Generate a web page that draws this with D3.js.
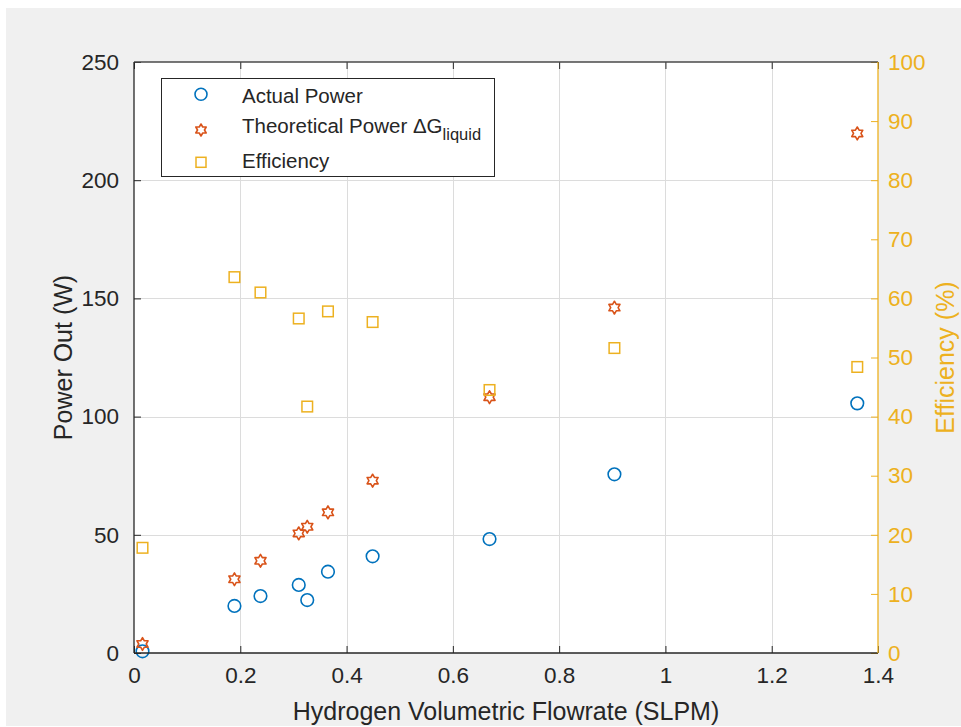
<!DOCTYPE html>
<html>
<head>
<meta charset="utf-8">
<script src="https://cdn.jsdelivr.net/npm/d3@7/dist/d3.min.js"></script>
<style>
  html, body { margin: 0; padding: 0; background: #ffffff; }
  svg { display: block; }
  text { font-family: "Liberation Sans", Arial, Helvetica, sans-serif; }
</style>
</head>
<body>
<svg id="chart" width="961" height="727"></svg>
<script>
// Measurements: hydrogen flow vs. fuel-cell power output and efficiency
const flowrate         = [0.016, 0.189, 0.238, 0.310, 0.326, 0.365, 0.449, 0.669, 0.904, 1.361];
const actualPower      = [0.7, 19.9, 24.1, 28.8, 22.4, 34.4, 40.9, 48.2, 75.6, 105.6];
const theoreticalPower = [3.8, 31.2, 39.0, 50.6, 53.4, 59.5, 72.9, 108.2, 146.1, 219.8];
const efficiency       = [17.8, 63.6, 61.0, 56.6, 41.7, 57.8, 56.0, 44.5, 51.6, 48.4];

const xTicks      = [0, 0.2, 0.4, 0.6, 0.8, 1, 1.2, 1.4];
const yLeftTicks  = [0, 50, 100, 150, 200, 250];
const yRightTicks = [0, 10, 20, 30, 40, 50, 60, 70, 80, 90, 100];

const seriesNames = ["Actual Power", "Theoretical Power \u0394G", "Efficiency"];

const BLUE = "#0072BD", ORANGE = "#D95319", YELLOW = "#EDB120", INK = "#262626";

const box = { left: 134, right: 878, top: 62, bottom: 653 };

const svg = d3.select("#chart");

// figure background
svg.append("rect").attr("x", 6).attr("y", 8).attr("width", 955).attr("height", 718)
  .attr("fill", "#f0f0f0");

const x  = d3.scaleLinear().domain([0, 1.4]).range([box.left, box.right]);
const yL = d3.scaleLinear().domain([0, 250]).range([box.bottom, box.top]);
const yR = d3.scaleLinear().domain([0, 100]).range([box.bottom, box.top]);

// plot area
svg.append("rect").attr("x", box.left).attr("y", box.top)
  .attr("width", box.right - box.left).attr("height", box.bottom - box.top)
  .attr("fill", "#ffffff");

// grid
const grid = svg.append("g").attr("stroke", "#dcdcdc").attr("stroke-width", 1);
grid.selectAll("line.gx").data(xTicks.slice(1, -1)).join("line")
  .attr("x1", d => Math.round(x(d)) + 0.5).attr("x2", d => Math.round(x(d)) + 0.5)
  .attr("y1", box.top).attr("y2", box.bottom);
grid.selectAll("line.gy").data(yLeftTicks.slice(1, -1)).join("line")
  .attr("x1", box.left).attr("x2", box.right)
  .attr("y1", d => Math.round(yL(d)) + 0.5).attr("y2", d => Math.round(yL(d)) + 0.5);

// markers
const hexagram = r => {
  const pts = [];
  for (let i = 0; i < 12; i++) {
    const a = -Math.PI / 2 + i * Math.PI / 6;
    const rr = i % 2 === 0 ? r : r / Math.sqrt(3);
    pts.push([rr * Math.cos(a), rr * Math.sin(a)]);
  }
  return "M" + pts.map(p => p[0].toFixed(2) + "," + p[1].toFixed(2)).join("L") + "Z";
};

const marks = svg.append("g");
marks.selectAll("circle.actual").data(flowrate).join("circle")
  .attr("cx", (d) => x(d)).attr("cy", (d, i) => yL(actualPower[i]))
  .attr("r", 6.3).attr("fill", "none").attr("stroke", BLUE).attr("stroke-width", 1.6);

marks.selectAll("path.theo").data(flowrate).join("path")
  .attr("transform", (d, i) => `translate(${x(d)},${yL(theoreticalPower[i])})`)
  .attr("d", hexagram(6.4)).attr("fill", "none").attr("stroke", ORANGE)
  .attr("stroke-width", 1.6).attr("stroke-linejoin", "round");

marks.selectAll("rect.eff").data(flowrate).join("rect")
  .attr("x", d => x(d) - 5.3).attr("y", (d, i) => yR(efficiency[i]) - 5.3)
  .attr("width", 10.6).attr("height", 10.6)
  .attr("fill", "none").attr("stroke", YELLOW).attr("stroke-width", 1.5);

// axes (ticks point inward; the frame lines are drawn separately)
const tickLen = 7;
const fmt = d => d3.format("")(d);

const xAxis = svg.append("g").attr("transform", `translate(0,${box.bottom})`)
  .call(d3.axisBottom(x).tickValues(xTicks).tickSize(-tickLen).tickPadding(14).tickFormat(fmt));
const xTop = svg.append("g").attr("transform", `translate(0,${box.top})`)
  .call(d3.axisTop(x).tickValues(xTicks).tickSize(-tickLen).tickFormat(""));
const yAxisL = svg.append("g").attr("transform", `translate(${box.left},0)`)
  .call(d3.axisLeft(yL).tickValues(yLeftTicks).tickSize(-tickLen).tickPadding(15).tickFormat(fmt));
const yAxisR = svg.append("g").attr("transform", `translate(${box.right},0)`)
  .call(d3.axisRight(yR).tickValues(yRightTicks).tickSize(-tickLen).tickPadding(10).tickFormat(fmt));

[xAxis, xTop, yAxisL, yAxisR].forEach(g => g.select(".domain").remove());
[xAxis, xTop, yAxisL].forEach(g => {
  g.selectAll(".tick line").attr("stroke", INK).attr("stroke-width", 1);
  g.selectAll(".tick text").attr("fill", INK).attr("font-size", 22.5)
    .attr("font-family", "Liberation Sans, Arial, sans-serif");
});
yAxisR.selectAll(".tick line").attr("stroke", YELLOW).attr("stroke-width", 1);
yAxisR.selectAll(".tick text").attr("fill", YELLOW).attr("font-size", 22.5)
  .attr("font-family", "Liberation Sans, Arial, sans-serif");

// frame
const frame = svg.append("g").attr("stroke-width", 1.3).attr("fill", "none");
frame.append("line").attr("x1", box.left).attr("x2", box.right).attr("y1", box.top).attr("y2", box.top)
  .attr("stroke", "#4a4a4a");
frame.append("line").attr("x1", box.left).attr("x2", box.right).attr("y1", box.bottom).attr("y2", box.bottom)
  .attr("stroke", INK);
frame.append("line").attr("x1", box.left).attr("x2", box.left).attr("y1", box.top).attr("y2", box.bottom)
  .attr("stroke", INK);
frame.append("line").attr("x1", box.right).attr("x2", box.right).attr("y1", box.top).attr("y2", box.bottom)
  .attr("stroke", YELLOW);

// axis titles
svg.append("text").attr("x", (box.left + box.right) / 2).attr("y", 720)
  .attr("text-anchor", "middle").attr("font-size", 25).attr("fill", INK)
  .text("Hydrogen Volumetric Flowrate (SLPM)");
svg.append("text").attr("transform", `translate(72,${(box.top + box.bottom) / 2}) rotate(-90)`)
  .attr("text-anchor", "middle").attr("font-size", 25).attr("fill", INK)
  .text("Power Out (W)");
svg.append("text").attr("transform", `translate(954,${(box.top + box.bottom) / 2}) rotate(-90)`)
  .attr("text-anchor", "middle").attr("font-size", 25).attr("fill", YELLOW)
  .text("Efficiency (%)");

// legend
const legend = svg.append("g");
legend.append("rect").attr("x", 161.5).attr("y", 78.5).attr("width", 333).attr("height", 98)
  .attr("fill", "#ffffff").attr("stroke", INK).attr("stroke-width", 1);

const rows = [
  { name: seriesNames[0], my: 94.3, ty: 103 },
  { name: seriesNames[1], my: 130, ty: 132.5, sub: "liquid" },
  { name: seriesNames[2], my: 162.3, ty: 167.5 }
];
const mx = 201;
legend.append("circle").attr("cx", mx).attr("cy", rows[0].my).attr("r", 6)
  .attr("fill", "none").attr("stroke", BLUE).attr("stroke-width", 1.6);
legend.append("path").attr("transform", `translate(${mx},${rows[1].my})`)
  .attr("d", hexagram(6)).attr("fill", "none").attr("stroke", ORANGE)
  .attr("stroke-width", 1.6).attr("stroke-linejoin", "round");
legend.append("rect").attr("x", mx - 5).attr("y", rows[2].my - 5).attr("width", 10).attr("height", 10)
  .attr("fill", "none").attr("stroke", YELLOW).attr("stroke-width", 1.5);

rows.forEach(r => {
  const t = legend.append("text").attr("x", 242).attr("y", r.ty)
    .attr("font-size", 20.5).attr("fill", INK);
  t.append("tspan").text(r.name);
  if (r.sub) t.append("tspan").attr("dy", 7.3).attr("font-size", 16.5).text(r.sub);
});
</script>
</body>
</html>
